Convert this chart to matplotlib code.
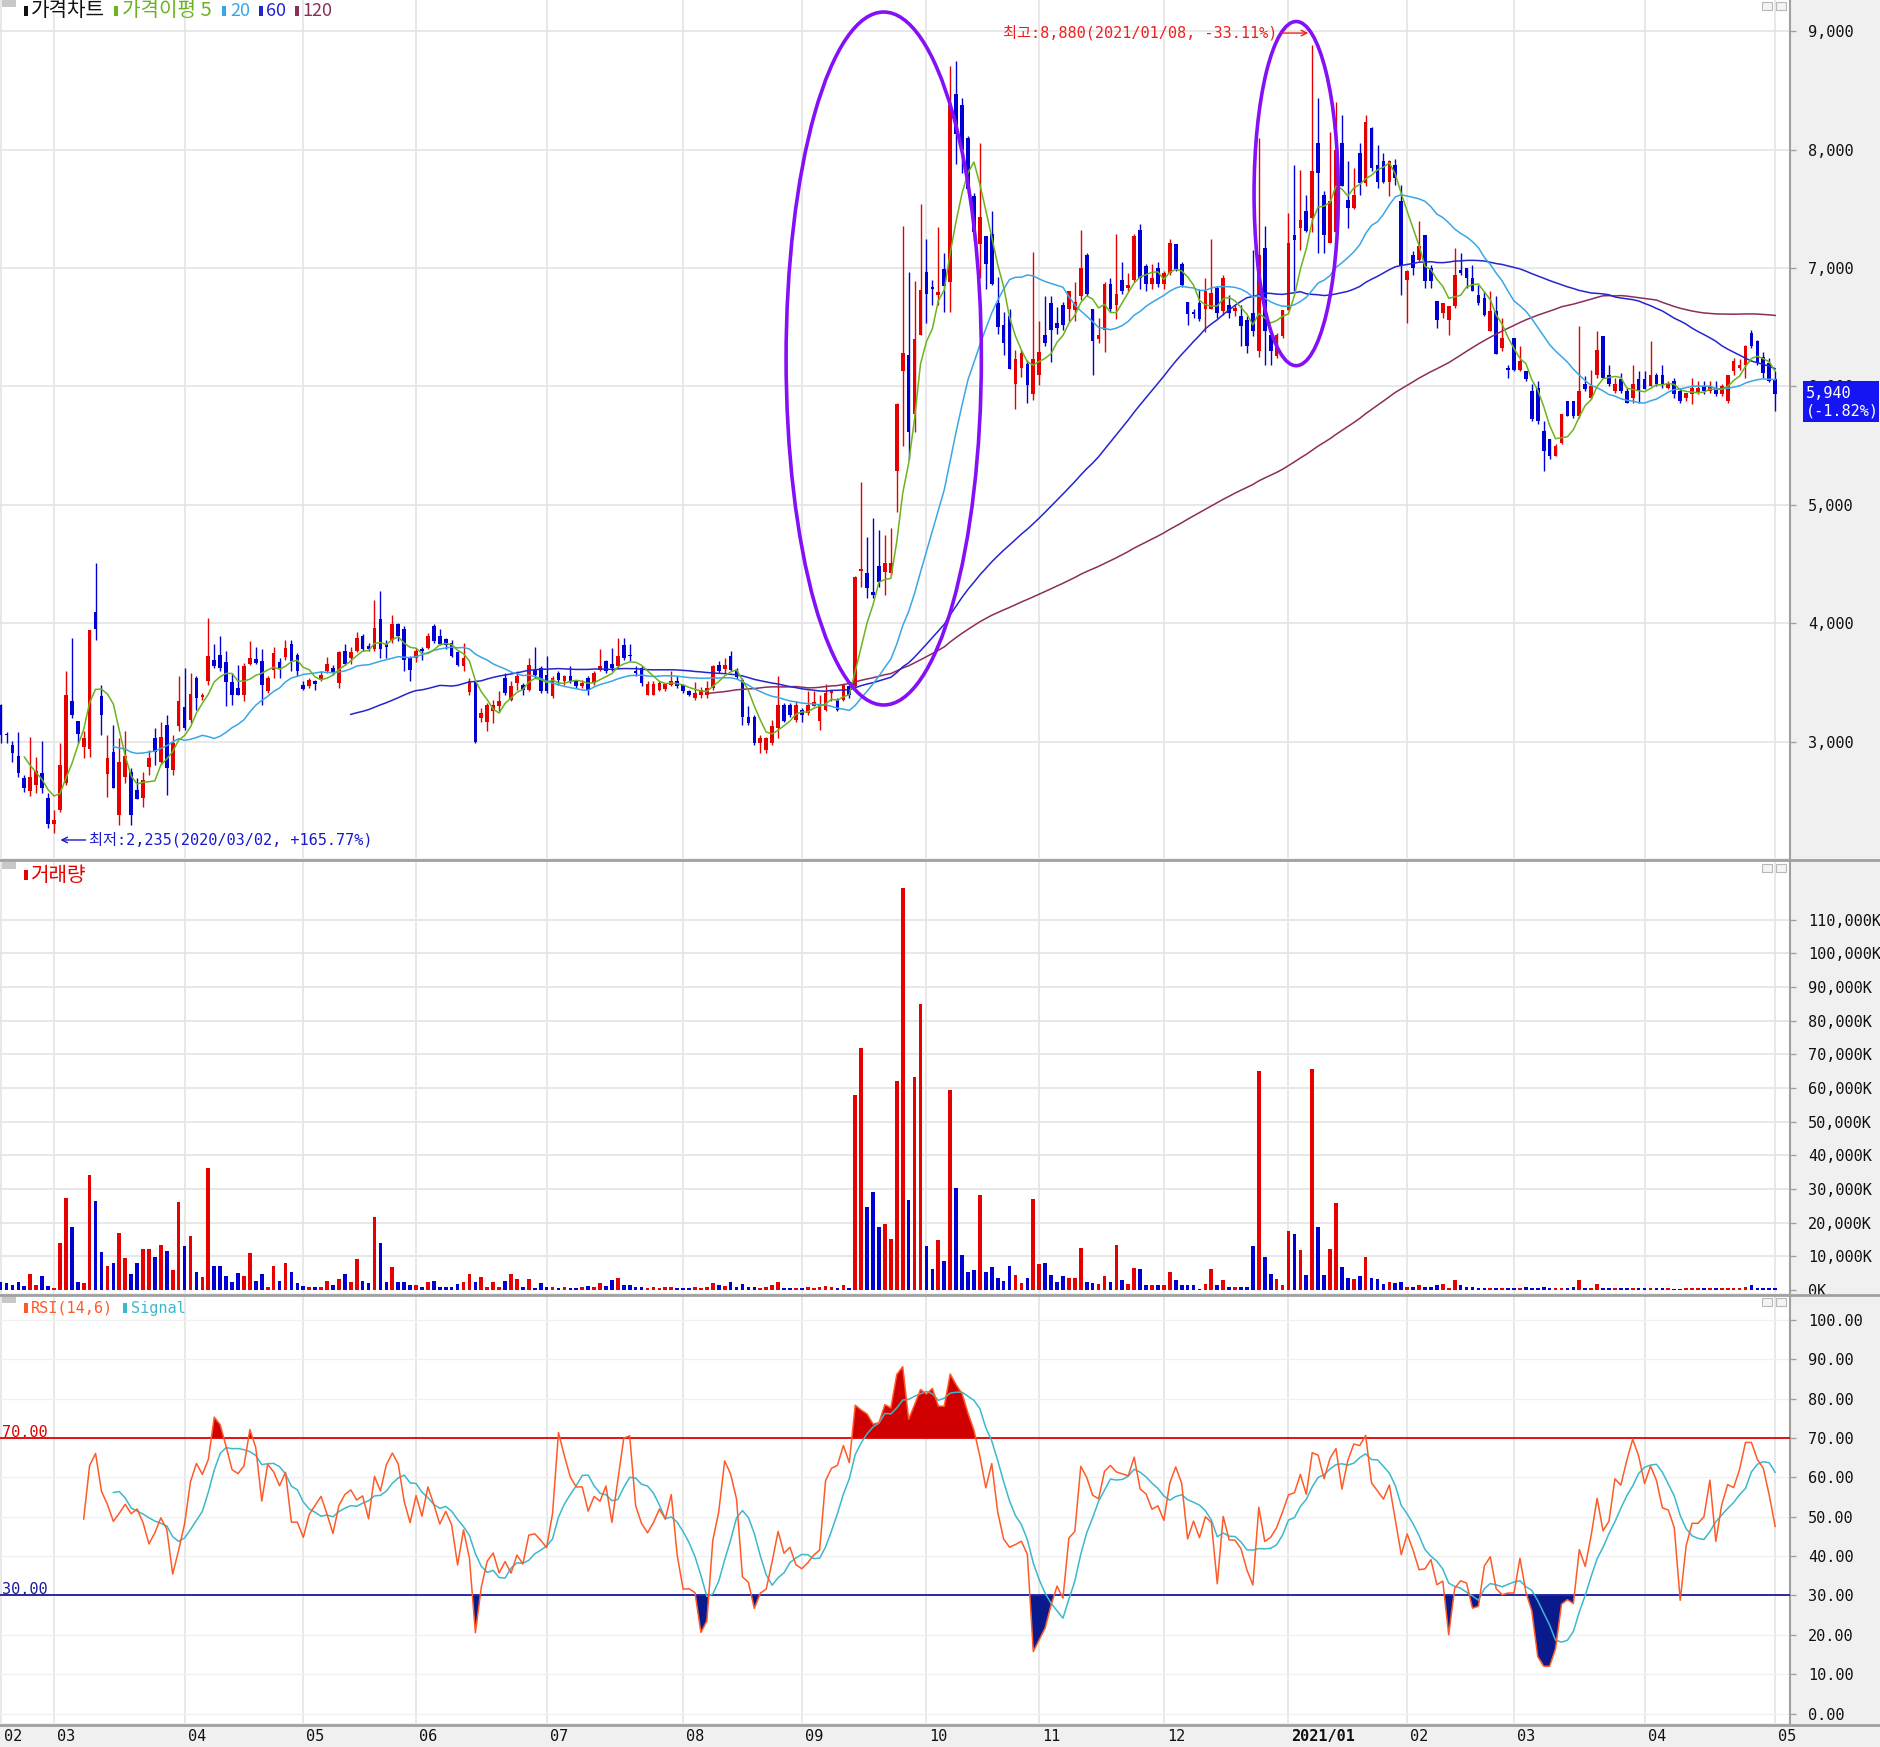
import numpy as np
import pandas as pd
import matplotlib
matplotlib.use("Agg")
import matplotlib.pyplot as plt
import matplotlib.transforms as mtransforms
from matplotlib.patches import Ellipse, Rectangle
from matplotlib.lines import Line2D

plt.rcParams['font.family'] = ['Noto Sans CJK KR', 'DejaVu Sans']

# month axis: label and number of trading days shown for each month
month_labels = ['02', '03', '04', '05', '06', '07', '08', '09', '10', '11', '12',
                '2021/01', '02', '03', '04', '05']
month_days = [9, 22, 20, 19, 22, 23, 20, 21, 19, 21, 21, 20, 18, 22, 22, 1]

# daily prices (won), 2020/02/18 .. 2021/05/03
opens = [
    3313, 3070, 2975, 2884, 2698, 2585, 2636, 2740, 2528, 2311,
    2424, 2650, 3342, 3178, 2960, 2941, 4096, 3384, 2726, 2912,
    2381, 2700, 2748, 2593, 2528, 2791, 3031, 2833, 3144, 2763,
    3130, 3291, 3186, 3540, 3376, 3511, 3695, 3737, 3675, 3506,
    3455, 3398, 3658, 3703, 3680, 3427, 3610, 3672, 3715, 3828,
    3737, 3483, 3469, 3517, 3525, 3596, 3624, 3497, 3765, 3709,
    3771, 3890, 3808, 3780, 4034, 3828, 3864, 3997, 3955, 3709,
    3709, 3788, 3794, 3977, 3893, 3870, 3836, 3757, 3638, 3420,
    3511, 3200, 3172, 3257, 3300, 3540, 3356, 3497, 3483, 3441,
    3610, 3624, 3568, 3384, 3582, 3511, 3554, 3511, 3469, 3540,
    3497, 3610, 3680, 3658, 3638, 3816, 3737, 3596, 3624, 3398,
    3398, 3441, 3449, 3483, 3511, 3477, 3432, 3370, 3398, 3392,
    3455, 3652, 3616, 3729, 3596, 3525, 3214, 3214, 2989, 2932,
    2989, 3116, 3314, 3314, 3186, 3271, 3243, 3307, 3178, 3271,
    3412, 3356, 3356, 3469, 3470, 4440, 4423, 4268, 4485, 4437,
    4423, 5286, 6130, 6265, 5768, 6431, 6964, 6838, 6771, 6988,
    6883, 8470, 8373, 8096, 7605, 7199, 7274, 7289, 6702, 6521,
    6596, 6024, 6160, 6190, 5934, 6099, 6431, 6702, 6536, 6687,
    6657, 6642, 6762, 7108, 6657, 6400, 6476, 6868, 6687, 6898,
    6832, 6898, 7319, 7018, 6868, 7003, 6868, 6958, 7199, 7033,
    6711, 6627, 6702, 6657, 6657, 6831, 6635, 6691, 6635, 6593,
    6565, 6621, 6300, 7169, 6438, 6256, 6424, 6649, 7281, 7337,
    7478, 7421, 8053, 7618, 7211, 7300, 8053, 7576, 7506, 7969,
    7716, 8180, 7871, 7899, 7730, 7870, 7562, 6902, 7112, 7070,
    7281, 7000, 6719, 6621, 6565, 6677, 6986, 7000, 6916, 6775,
    6747, 6466, 6635, 6326, 6157, 6410, 6143, 6129, 5960, 5989,
    5624, 5553, 5413, 5525, 5877, 5877, 5750, 6017, 5905, 6101,
    6424, 6101, 5961, 6059, 5961, 5905, 6059, 6059, 6003, 6101,
    6101, 5989, 6045, 5961, 5905, 5933, 5947, 6003, 5961, 5989,
    5933, 5877, 6129, 6157, 6185, 6452, 6382, 6250, 6199, 6059,
]
highs = [
    3322, 3085, 3008, 3082, 2720, 3040, 2870, 3011, 2565, 2424,
    2989, 3596, 3879, 3180, 3088, 3943, 4506, 3483, 3054, 3144,
    3031, 3088, 2782, 2692, 2748, 2932, 3121, 3164, 3229, 3059,
    3554, 3624, 3582, 3554, 3412, 4042, 3828, 3893, 3765, 3582,
    3652, 3666, 3850, 3800, 3780, 3554, 3800, 3709, 3864, 3864,
    3751, 3511, 3540, 3525, 3596, 3715, 3652, 3765, 3828, 3800,
    3930, 3912, 3836, 4195, 4274, 3864, 4071, 4006, 3977, 3723,
    3794, 3800, 3921, 3992, 3949, 3879, 3864, 3765, 3836, 3540,
    3520, 3285, 3328, 3356, 3427, 3582, 3511, 3596, 3497, 3709,
    3799, 3638, 3723, 3554, 3596, 3568, 3638, 3525, 3525, 3554,
    3596, 3780, 3695, 3794, 3879, 3879, 3828, 3638, 3638, 3511,
    3511, 3511, 3497, 3596, 3554, 3489, 3441, 3506, 3460, 3511,
    3652, 3686, 3709, 3765, 3624, 3540, 3300, 3229, 3059, 3045,
    3186, 3554, 3328, 3328, 3342, 3285, 3427, 3427, 3398, 3489,
    3441, 3370, 3489, 3483, 4400, 5197, 4732, 4887, 4789, 4746,
    4808, 5860, 7358, 6967, 6892, 7536, 7244, 6898, 7349, 7124,
    8705, 8750, 8434, 8118, 7636, 8057, 7274, 7485, 6928, 6627,
    6657, 6310, 6310, 6220, 7139, 6551, 6762, 6762, 6672, 6717,
    6807, 6883, 7319, 7124, 6657, 6581, 6883, 6913, 7289, 7048,
    6958, 7289, 7370, 7033, 7033, 7048, 6973, 7244, 7199, 7048,
    6717, 6650, 6822, 6913, 7244, 6845, 6944, 6775, 6691, 6691,
    6593, 7150, 8096, 7351, 6438, 6452, 6649, 7463, 7871, 7829,
    7618, 8880, 8433, 7646, 8152, 8404, 8292, 7899, 7843, 8053,
    8292, 8194, 8040, 7969, 7913, 7920, 7702, 6985, 7141, 7393,
    7281, 7028, 6719, 6705, 6677, 7169, 7126, 7000, 7028, 6860,
    6803, 6803, 6761, 6579, 6185, 6410, 6340, 6129, 6017, 6045,
    5708, 5553, 5511, 5764, 5877, 5877, 6508, 6087, 6143, 6466,
    6424, 6185, 6073, 6115, 5989, 6185, 6129, 6129, 6382, 6115,
    6185, 6045, 6073, 5989, 5947, 6073, 6045, 6045, 6045, 6045,
    6017, 6101, 6242, 6228, 6354, 6480, 6396, 6290, 6242, 6129,
]
lows = [
    2989, 2990, 2833, 2706, 2579, 2545, 2565, 2570, 2274, 2235,
    2410, 2636, 3200, 2990, 2867, 2876, 3856, 3059, 2537, 2607,
    2297, 2650, 2297, 2520, 2452, 2720, 2805, 2819, 2551, 2720,
    3088, 3102, 3158, 3271, 3356, 3483, 3624, 3596, 3300, 3314,
    3398, 3342, 3652, 3658, 3314, 3412, 3540, 3540, 3695, 3596,
    3554, 3441, 3455, 3441, 3517, 3582, 3568, 3455, 3652, 3658,
    3760, 3771, 3765, 3765, 3709, 3709, 3836, 3850, 3596, 3511,
    3675, 3695, 3780, 3836, 3816, 3780, 3715, 3638, 3596, 3398,
    2990, 3172, 3093, 3158, 3257, 3398, 3342, 3441, 3398, 3427,
    3540, 3412, 3412, 3370, 3483, 3483, 3497, 3455, 3455, 3398,
    3483, 3596, 3582, 3596, 3624, 3695, 3680, 3554, 3469, 3398,
    3392, 3432, 3427, 3469, 3455, 3412, 3384, 3356, 3370, 3370,
    3441, 3582, 3582, 3596, 3534, 3144, 3144, 2975, 2904, 2904,
    2975, 3031, 3172, 3214, 3172, 3172, 3229, 3300, 3101, 3257,
    3342, 3257, 3347, 3370, 3460, 4310, 4211, 4211, 4310, 4240,
    4408, 4940, 5500, 5392, 5618, 6431, 6536, 6687, 6687, 6627,
    6627, 7877, 7801, 7636, 7229, 6913, 6822, 6853, 6446, 6265,
    6145, 5813, 6084, 5858, 5889, 6009, 6340, 6205, 6446, 6476,
    6551, 6551, 6732, 6762, 6099, 6370, 6295, 6627, 6566, 6777,
    6807, 6883, 6822, 6807, 6822, 6837, 6822, 6943, 6973, 6837,
    6521, 6580, 6551, 6461, 6657, 6580, 6607, 6580, 6593, 6340,
    6283, 6424, 6250, 6185, 6185, 6240, 6410, 6649, 6803, 7154,
    7300, 7300, 7126, 7126, 7211, 7250, 7688, 7337, 7500, 7618,
    7688, 7815, 7674, 7716, 7604, 7700, 6775, 6537, 6944, 7056,
    6832, 6832, 6494, 6579, 6438, 6663, 6944, 6832, 6803, 6691,
    6593, 6466, 6270, 6298, 6073, 6129, 6129, 6045, 5708, 5680,
    5287, 5385, 5413, 5511, 5750, 5736, 5736, 5961, 5890, 6073,
    6073, 6003, 5947, 5947, 5862, 5862, 5862, 5975, 6003, 6003,
    5989, 5975, 5905, 5862, 5877, 5848, 5933, 5933, 5947, 5919,
    5919, 5862, 6101, 6143, 6073, 6326, 6185, 6073, 6037, 5793,
]
closes = [
    3059, 3055, 2905, 2734, 2607, 2706, 2754, 2607, 2311, 2339,
    2805, 3398, 3223, 3065, 3031, 3943, 3955, 3229, 2862, 2607,
    2833, 2880, 2381, 2522, 2678, 2861, 2918, 3045, 2777, 2989,
    3342, 3116, 3404, 3370, 3398, 3723, 3638, 3624, 3506, 3398,
    3398, 3638, 3709, 3667, 3483, 3540, 3751, 3624, 3794, 3681,
    3596, 3449, 3525, 3489, 3568, 3658, 3582, 3760, 3658, 3757,
    3879, 3780, 3780, 3963, 3788, 3800, 3992, 3893, 3695, 3610,
    3765, 3765, 3893, 3850, 3828, 3816, 3723, 3647, 3709, 3511,
    3003, 3243, 3314, 3314, 3342, 3412, 3469, 3554, 3441, 3647,
    3568, 3427, 3427, 3540, 3525, 3554, 3511, 3469, 3497, 3441,
    3582, 3638, 3596, 3624, 3723, 3709, 3723, 3582, 3497, 3489,
    3489, 3497, 3489, 3517, 3469, 3432, 3392, 3412, 3441, 3455,
    3644, 3596, 3647, 3610, 3545, 3206, 3158, 2989, 3031, 3031,
    3130, 3314, 3178, 3229, 3314, 3229, 3314, 3335, 3314, 3412,
    3427, 3271, 3483, 3398, 4395, 4460, 4296, 4240, 4352, 4507,
    4507, 5849, 6280, 5618, 6400, 6813, 6783, 6823, 6801, 6852,
    8373, 8133, 7997, 7666, 7304, 7434, 7033, 6868, 6506, 6370,
    6145, 6235, 6280, 6009, 6235, 6295, 6370, 6476, 6491, 6521,
    6807, 6717, 7003, 6777, 6386, 6431, 6868, 6657, 6777, 6807,
    6853, 7274, 6913, 6868, 6913, 6868, 6958, 7214, 6988, 6853,
    6612, 6612, 6566, 6807, 6792, 6621, 6916, 6621, 6663, 6508,
    6340, 6466, 7112, 6466, 6298, 6438, 6649, 7211, 7239, 7407,
    7309, 7815, 7800, 7281, 7562, 8000, 7688, 7506, 7618, 7716,
    8236, 7843, 7730, 7730, 7899, 7760, 7028, 6972, 7000, 7183,
    6888, 6888, 6565, 6705, 6677, 6944, 6958, 6916, 6803, 6705,
    6607, 6635, 6270, 6410, 6143, 6143, 6213, 6059, 5722, 5708,
    5455, 5413, 5497, 5764, 5750, 5750, 5961, 5975, 6003, 6312,
    6073, 6017, 6017, 5961, 5862, 6017, 5961, 5975, 6101, 6017,
    6017, 6017, 5933, 5877, 5947, 5989, 5989, 5961, 6003, 5933,
    6003, 6101, 6213, 6185, 6340, 6340, 6199, 6110, 6050, 5940,
]
# daily volume in K shares
volumes = [
    2500, 2000, 1500, 2500, 1200, 4650, 1500, 4150, 1200, 700,
    13900, 27200, 18800, 2300, 2000, 34000, 26400, 11200, 7200, 8100,
    17000, 9400, 4650, 8100, 12100, 12100, 9900, 13400, 11700, 5900,
    26000, 13100, 16100, 5400, 3800, 36100, 7200, 7200, 4150, 2300,
    4950, 4150, 10900, 2800, 4650, 1000, 7200, 2800, 8100, 5400,
    2000, 1300, 1000, 1000, 1000, 2800, 1500, 3300, 4650, 2300,
    9100, 2800, 2000, 21600, 13900, 2300, 6700, 2300, 2300, 1500,
    1500, 1000, 2300, 2800, 1000, 1000, 1000, 1800, 2300, 4650,
    2300, 3800, 1000, 2300, 1000, 2800, 4650, 3300, 1000, 3300,
    500, 2000, 1000, 1000, 600, 800, 600, 600, 900, 1200,
    1000, 2000, 1200, 3000, 3500, 1500, 1500, 1000, 800, 700,
    900, 600, 800, 1000, 700, 600, 500, 800, 600, 1000,
    2000, 1500, 1200, 2500, 1000, 1800, 800, 1000, 700, 800,
    1500, 2500, 700, 600, 700, 500, 1000, 700, 1000, 1300,
    800, 600, 1500, 700, 58000, 72000, 24700, 29200, 18700, 19700,
    15200, 62000, 119500, 26800, 63300, 84800, 13000, 6300, 14750, 8500,
    59300, 30300, 10300, 5350, 5850, 28100, 5350, 6800, 3560, 2670,
    7130, 4360, 2180, 3560, 27100, 7620, 8120, 4550, 2380, 4060,
    3560, 3560, 12600, 2280, 2180, 1880, 4060, 2280, 13500, 2870,
    1880, 6630, 6340, 1390, 1390, 1390, 1390, 5350, 2870, 1390,
    1390, 1390, 400, 1880, 6340, 1390, 2870, 900, 900, 900,
    900, 13000, 65000, 9800, 4850, 3170, 1500, 17400, 16500, 11800,
    4550, 65500, 18700, 4550, 12100, 25800, 6830, 3660, 3170, 4060,
    9800, 3660, 3170, 1880, 2380, 2100, 2380, 900, 900, 1400,
    900, 900, 1400, 1900, 600, 2870, 1400, 900, 900, 500,
    500, 600, 500, 500, 500, 700, 600, 900, 600, 700,
    900, 600, 500, 700, 600, 800, 2870, 700, 500, 1880,
    700, 500, 500, 500, 500, 600, 500, 500, 700, 500,
    500, 500, 400, 400, 600, 600, 500, 500, 500, 500,
    600, 500, 600, 600, 800, 1580, 700, 500, 500, 600,
]

RED = '#e60000'
BLUE = '#0000d4'
MA_COLORS = {5: '#6ab41e', 20: '#3aa6e6', 60: '#2424d0', 120: '#8c2d5c'}
GRID = '#e6e6e6'
EDGE = '#a0a0a0'
MONO = 'DejaVu Sans Mono'
MONO_KR = [MONO, 'Noto Sans CJK KR']

W, H = 1880, 1747
fig = plt.figure(figsize=(W / 100, H / 100), dpi=100, facecolor='#f0f0f0')


def box(top, bottom, right=1790):
    return [0, 1 - bottom / H, right / W, (bottom - top) / H]


ax1 = fig.add_axes(box(0, 858))
ax2 = fig.add_axes(box(861, 1293))
ax3 = fig.add_axes(box(1296, 1723))

x = np.arange(len(closes))
o = np.array(opens, float)
hi = np.array(highs, float)
lo = np.array(lows, float)
c = np.array(closes, float)
v = np.array(volumes, float)
up = c >= o
cols = np.where(up, RED, BLUE)
month_starts = np.cumsum([0] + month_days[:-1])

for ax in (ax1, ax2, ax3):
    ax.set_xlim(-0.1, 301.5)
    ax.set_facecolor('white')
    for s in ax.spines.values():
        s.set_visible(False)
    ax.spines['right'].set_visible(True)
    ax.spines['right'].set_color(EDGE)
    ax.spines['right'].set_linewidth(1.5)
    ax.yaxis.tick_right()
    ax.tick_params(axis='y', direction='out', length=4, width=1, color=EDGE,
                   pad=9, labelsize=11, labelcolor='#111111')
    ax.tick_params(axis='x', bottom=False, labelbottom=False)
    for m in month_starts:
        ax.axvline(m, color=GRID, lw=1.3, zorder=0)

# ---- price panel
ax1.set_ylim(2020, 9262)
pticks = list(range(3000, 9001, 1000))
ax1.set_yticks(pticks, [f'{t:,}' for t in pticks], fontfamily=MONO)
for t in pticks:
    ax1.axhline(t, color=GRID, lw=1.3, zorder=0)

ax1.vlines(x, lo, hi, colors=cols, lw=1.0, zorder=3)
body = np.maximum(np.abs(c - o), 14)
ax1.bar(x, body, bottom=np.minimum(o, c), width=0.62, color=cols, lw=0, zorder=4)

cs = pd.Series(c)
for n in (120, 60, 20, 5):
    ax1.plot(x, cs.rolling(n).mean(), color=MA_COLORS[n], lw=1.1, zorder=5)

ax1.add_patch(Ellipse((148.8, 6236), 32.9, 5849, fill=False, ec='#8410f8', lw=2.6, zorder=6))
ax1.add_patch(Ellipse((218.3, 7628), 14.2, 2905, fill=False, ec='#8410f8', lw=2.6, zorder=6))

ax1.text(215.2, 8983, '최고:8,880(2021/01/08, -33.11%)', color='#f01e1e', fontsize=11,
         family=MONO_KR, ha='right', va='center', zorder=7)
ax1.annotate('', xy=(220.8, 8983), xytext=(215.4, 8983),
             arrowprops=dict(arrowstyle='->', color='#f01e1e', lw=1.0), zorder=7)
ax1.text(14.9, 2172, '최저:2,235(2020/03/02, +165.77%)', color='#1a1acc', fontsize=11,
         family=MONO_KR, ha='left', va='center', zorder=7)
ax1.annotate('', xy=(9.6, 2172), xytext=(14.8, 2172),
             arrowprops=dict(arrowstyle='->', color='#1a1acc', lw=1.0), zorder=7)

# ---- volume panel
ax2.set_ylim(-900, 127400)
vticks = list(range(0, 110001, 10000))
ax2.set_yticks(vticks, [f'{t:,}K' for t in vticks], fontfamily=MONO)
for t in vticks[1:]:
    ax2.axhline(t, color=GRID, lw=1.3, zorder=0)
ax2.bar(x, v, width=0.62, color=cols, lw=0, zorder=3)

# ---- RSI panel
ax3.set_ylim(-2.4, 106.1)
rticks = list(range(0, 101, 10))
ax3.set_yticks(rticks, [f'{t:.2f}' for t in rticks], fontfamily=MONO)
for t in rticks:
    ax3.axhline(t, color='#f0f0f0', lw=1.0, zorder=0)

delta = cs.diff()
gain = delta.clip(lower=0).rolling(14).mean()
loss = (-delta.clip(upper=0)).rolling(14).mean()
rsi = 100 * gain / (gain + loss)
signal = rsi.rolling(6).mean()
ax3.fill_between(x, rsi, 70, where=(rsi >= 70), interpolate=True, color='#d00000', lw=0, zorder=2)
ax3.fill_between(x, rsi, 30, where=(rsi <= 30), interpolate=True, color='#0a1a8c', lw=0, zorder=2)
ax3.axhline(70, color='#e00000', lw=1.3, zorder=3)
ax3.axhline(30, color='#1a1a9a', lw=1.3, zorder=3)
ax3.plot(x, signal, color='#3cb8cc', lw=1.1, zorder=4)
ax3.plot(x, rsi, color='#ff5a28', lw=1.1, zorder=5)
blend = mtransforms.blended_transform_factory(ax3.transAxes, ax3.transData)
ax3.text(0.001, 69.6, '70.00', color='#e00000', fontsize=11, fontfamily=MONO,
         transform=blend, va='bottom', ha='left')
ax3.text(0.001, 29.6, '30.00', color='#1a1a9a', fontsize=11, fontfamily=MONO,
         transform=blend, va='bottom', ha='left')

# month labels under the RSI panel
xl = mtransforms.blended_transform_factory(ax3.transData, ax3.transAxes) + \
    mtransforms.ScaledTranslation(3 / 100, 0, fig.dpi_scale_trans)
for m, lab in zip(month_starts, month_labels):
    ax3.text(m, -0.031, lab, transform=xl, ha='left', va='center', fontsize=11,
             fontfamily=MONO, fontweight='bold' if '/' in lab else 'normal',
             color='#111111', clip_on=False)

# ---- panel chrome


def px(xp, yp):
    return xp / W, 1 - yp / H


def mark(xp, yp, color):
    fig.add_artist(Rectangle(px(xp, yp + 5), 4 / W, 10 / H, transform=fig.transFigure,
                             color=color, lw=0))


def ftext(xp, yp, s, color, **kw):
    fig.text(*px(xp, yp), s, color=color, ha='left', va='center', **kw)


for yline in (859.5, 1294.5, 1724.5):
    fig.add_artist(Line2D([0, 1], [1 - yline / H] * 2, transform=fig.transFigure,
                          color=EDGE, lw=2))

for ytop in (0, 862, 1296):
    fig.add_artist(Rectangle(px(2, ytop + 7), 14 / W, 7 / H, transform=fig.transFigure,
                             color='#c8c8c8', lw=0))
    for xi in (1762, 1776):
        fig.add_artist(Rectangle(px(xi, ytop + 10), 10 / W, 8 / H, transform=fig.transFigure,
                                 facecolor='#f4f4f4', edgecolor='#b8b8b8', lw=0.8))

mark(24, 11, '#111111')
ftext(31, 11, '가격차트', '#111111', fontsize=14.5)
mark(114, 11, MA_COLORS[5])
ftext(122, 11, '가격이평 5', MA_COLORS[5], fontsize=14.5)
mark(222, 11, MA_COLORS[20])
ftext(230, 11, '20', MA_COLORS[20], fontsize=13)
mark(259, 11, MA_COLORS[60])
ftext(266, 11, '60', MA_COLORS[60], fontsize=13)
mark(295, 11, MA_COLORS[120])
ftext(302, 11, '120', MA_COLORS[120], fontsize=13)

mark(24, 875, RED)
ftext(31, 875, '거래량', RED, fontsize=14.5)

mark(24, 1308, '#ff5a28')
ftext(31, 1308, 'RSI(14,6)', '#ff5a28', fontsize=11, family=MONO)
mark(123, 1308, '#3cb8cc')
ftext(131, 1308, 'Signal', '#3cb8cc', fontsize=11, family=MONO)

# last price box
fig.add_artist(Rectangle(px(1803, 422), 76 / W, 41 / H, transform=fig.transFigure,
                         color='#1414f5', lw=0))
ftext(1806, 393, '5,940', 'white', fontsize=11, family=MONO)
ftext(1806, 411, '(-1.82%)', 'white', fontsize=11, family=MONO)

fig.savefig('out.png', dpi=100, facecolor=fig.get_facecolor())
